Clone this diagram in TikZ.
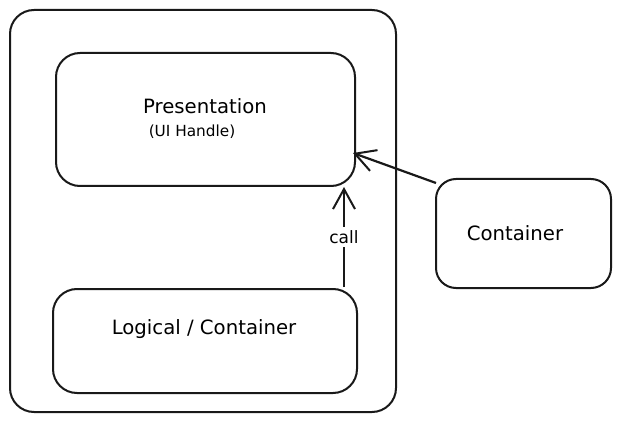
\documentclass[tikz,border=0pt]{standalone}
\usepackage{fontspec}
\setmainfont{DejaVu Sans}
\usetikzlibrary{arrows.meta}
\begin{document}
\begin{tikzpicture}[x=1pt,y=-1pt,
  box/.style={draw=black!90,line width=2pt,rounded corners=24pt},
  lbl/.style={font=\fontsize{19.7}{22}\selectfont},
  conn/.style={draw=black!90,line width=2.2pt,-{Straight Barb[length=20pt,width=22pt,line width=2pt]}}]
\useasboundingbox (0,0) rectangle (621,422);
\fill[white] (0,0) rectangle (621,422);
\draw[box] (10,10) rectangle (396,412);
\node[box,minimum width=299pt,minimum height=133pt,anchor=north west] (pres) at (55,52) {};
\node[box,minimum width=304pt,minimum height=104pt,anchor=north west] (logic) at (52,288) {};
\node[box,minimum width=175pt,minimum height=109pt,anchor=north west,rounded corners=20pt] (cont) at (435,178) {};
\node[lbl] (ptxt) at (205,106) {Presentation};
\node[font=\fontsize{15.3}{17}\selectfont] (uitxt) at (192,132) {(UI Handle)};
\node[lbl] (ltxt) at (204,329) {Logical / Container};
\node[lbl] (ctxt) at (515,233) {Container};
\coordinate (cs) at (344,287);
\coordinate (ce) at (344,187);
\coordinate (as) at (436,183);
\coordinate (ae) at (353,153);
\draw[conn] (cs) -- node[fill=white,inner sep=3pt,font=\fontsize{17}{20}\selectfont] (call) {call} (ce);
\draw[conn] (as) -- (ae);
\end{tikzpicture}
\end{document}
